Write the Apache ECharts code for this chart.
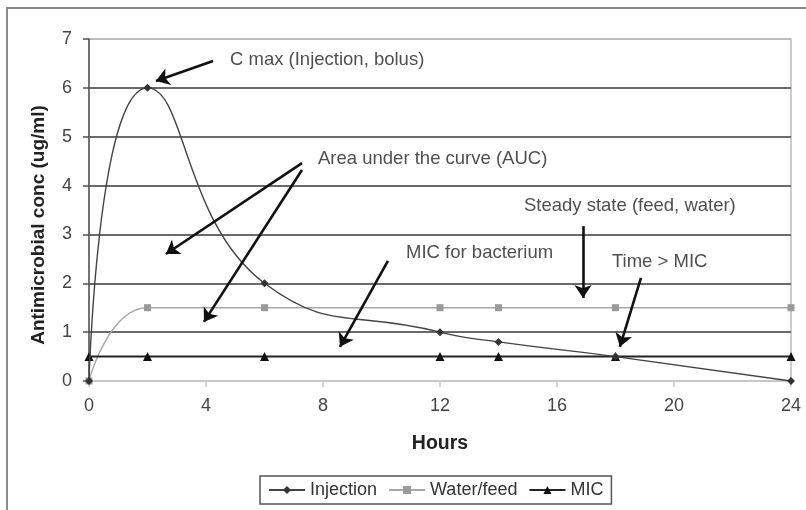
<!DOCTYPE html>
<html>
<head>
<meta charset="utf-8">
<script src="https://cdn.jsdelivr.net/npm/echarts@6/dist/echarts.min.js"></script>
<style>
	html,body{margin:0;padding:0;background:#fff;}
	#chart{width:806px;height:510px;}
</style>
</head>
<body>
<div id="chart"></div>
<script>
'use strict'
// series values
let hours = [0, 2, 6, 12, 14, 18, 24],
	injection = [0, 6, 2, 1, 0.8, 0.5, 0],
	waterFeed = [0, 1.5, 1.5, 1.5, 1.5, 1.5, 1.5],
	mic = [0.5, 0.5, 0.5, 0.5, 0.5, 0.5, 0.5];
// annotation texts: [hours, conc, text]
let notes = [
	[4.82, 6.57, 'C max (Injection, bolus)'],
	[7.83, 4.54, 'Area under the curve (AUC)'],
	[10.84, 2.62, 'MIC for bacterium'],
	[14.87, 3.58, 'Steady state (feed, water)'],
	[17.88, 2.44, 'Time > MIC']
];
// arrows: [from, to] in hours / conc
let arrows = [
	[[4.24, 6.55], [2.29, 6.14]],
	[[7.28, 4.46], [2.63, 2.60]],
	[[7.28, 4.32], [3.93, 1.21]],
	[[10.22, 2.46], [8.58, 0.70]],
	[[16.89, 3.17], [16.89, 1.70]],
	[[18.87, 2.11], [18.15, 0.70]]
];
let font = 'Arial, "Liberation Sans", sans-serif';
let pair = (xs, ys) => xs.map((x, i) => [x, ys[i]]);

let chart = echarts.init(document.getElementById('chart'));
let option = {
	animation: false,
	backgroundColor: '#fff',
	textStyle: { fontFamily: font },
	graphic: [{
		type: 'rect',
		shape: { x: 7, y: 8, width: 830, height: 540 },
		style: { fill: 'none', stroke: '#8a8a8a', lineWidth: 2 },
		silent: true
	}],
	grid: {
		left: 89, right: 15, top: 39, bottom: 129,
		show: true, borderColor: '#bdbdbd', borderWidth: 1.5
	},
	legend: {
		left: 260, top: 476,
		data: ['Injection', 'Water/feed', 'MIC'],
		itemWidth: 36, itemHeight: 10, itemGap: 11,
		padding: [5, 8, 5, 8],
		borderColor: '#555', borderWidth: 1.5,
		textStyle: { color: '#333', fontSize: 18, fontFamily: font }
	},
	xAxis: {
		type: 'value', min: 0, max: 24, interval: 4,
		name: 'Hours', nameLocation: 'middle', nameGap: 53,
		nameTextStyle: { fontSize: 19.5, fontWeight: 'bold', color: '#222', fontFamily: font },
		axisLine: { lineStyle: { color: '#c8c8c8', width: 1.5 } },
		axisTick: { length: 6, lineStyle: { color: '#c8c8c8', width: 1.5 } },
		axisLabel: { margin: 16, fontSize: 18, color: '#444', fontFamily: font },
		splitLine: { show: false }
	},
	yAxis: {
		type: 'value', min: 0, max: 7, interval: 1,
		name: 'Antimicrobial conc (ug/ml)', nameLocation: 'middle', nameGap: 41,
		nameTextStyle: { fontSize: 19, fontWeight: 'bold', color: '#222', fontFamily: font, padding: [0, 30, 0, 0] },
		axisLine: { lineStyle: { color: '#555', width: 1.5 } },
		axisTick: { length: 6, lineStyle: { color: '#555', width: 1.5 } },
		axisLabel: { margin: 17, fontSize: 18, color: '#444', fontFamily: font },
		splitLine: {
			lineStyle: {
				color: ['#c8c8c8', '#6a6a6a', '#6a6a6a', '#6a6a6a', '#6a6a6a', '#6a6a6a', '#6a6a6a', '#bdbdbd'],
				width: 1.8
			}
		}
	},
	series: [{
		name: 'Injection',
		type: 'line',
		smooth: 0.5,
		data: pair(hours, injection),
		symbol: 'diamond', symbolSize: 8,
		itemStyle: { color: '#333' },
		lineStyle: { color: '#444', width: 1.4 },
		z: 4
	}, {
		name: 'Water/feed',
		type: 'line',
		smooth: 0.5,
		data: pair(hours, waterFeed),
		symbol: 'rect', symbolSize: 7,
		itemStyle: { color: '#9a9a9a' },
		lineStyle: { color: '#a8a8a8', width: 1.4 },
		z: 3
	}, {
		name: 'MIC',
		type: 'line',
		data: pair(hours, mic),
		symbol: 'triangle', symbolSize: 9,
		itemStyle: { color: '#111' },
		lineStyle: { color: '#222', width: 2 },
		z: 3
	}, {
		name: 'notes',
		type: 'scatter',
		silent: true,
		data: notes,
		symbolSize: 0,
		label: {
			show: true, position: 'right', distance: 0,
			formatter: p => p.value[2],
			color: '#222', fontSize: 18.5, fontFamily: font
		},
		markLine: {
			silent: true,
			symbol: ['none', 'arrow'],
			symbolSize: 13,
			label: { show: false },
			lineStyle: { color: '#111', width: 2.6, type: 'solid' },
			data: arrows.map(a => [{ coord: a[0] }, { coord: a[1] }])
		},
		z: 5
	}]
};
chart.setOption(option);
</script>
</body>
</html>
